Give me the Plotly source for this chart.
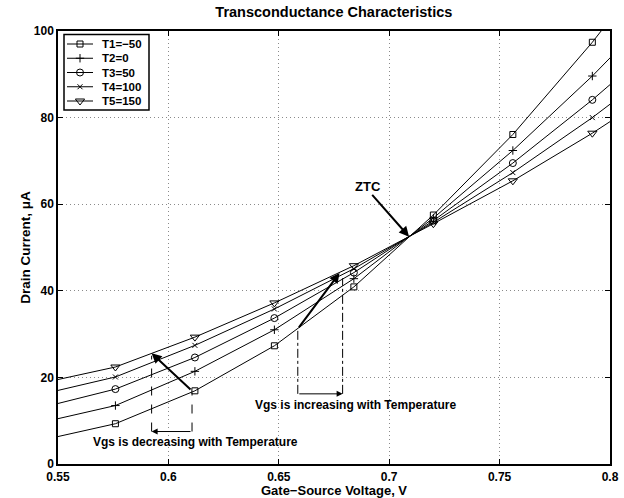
import plotly.graph_objects as go

# ---- data ----
vgs = [0.540, 0.576, 0.612, 0.648, 0.684, 0.720, 0.756, 0.792, 0.828]
T1 = [5.2, 9.3, 16.9, 27.3, 40.9, 57.5, 76.1, 97.4, 120.9]
T2 = [9.3, 13.5, 21.4, 31.0, 42.8, 56.8, 72.4, 89.6, 108.4]
T3 = [12.7, 17.3, 24.6, 33.7, 44.2, 56.2, 69.5, 84.1, 99.9]
T4 = [15.8, 20.1, 27.4, 35.8, 45.1, 55.8, 67.3, 80.0, 93.9]
T5 = [18.4, 22.4, 29.3, 37.2, 45.8, 55.5, 65.4, 76.4, 88.4]
series_names = ["T1=\u221250", "T2=0", "T3=50", "T4=100", "T5=150"]
series_vals = [T1, T2, T3, T4, T5]
symbols = ["square-open", "cross-thin-open", "circle-open", "x-thin-open", "triangle-down-open"]
msizes = [6, 6, 7, 5, 8]

x_ticks = [0.55, 0.6, 0.65, 0.7, 0.75, 0.8]
x_ticktext = ["0.55", "0.6", "0.65", "0.7", "0.75", "0.8"]
y_ticks = [0, 20, 40, 60, 80, 100]
X_RANGE = [0.55, 0.8]
Y_RANGE = [0, 100]

# annotation anchors (data coords)
ztc_point = (0.709, 52.5)
ztc_tail = (0.6917, 62.5)
ztc_label = (0.6905, 64.2)
inc_tail = (0.6586, 31.2)
inc_head = (0.6775, 44.1)
inc_left_x, inc_right_x = 0.6586, 0.6789
inc_left_top, inc_right_top, inc_bottom = 31.2, 42.9, 16.2
inc_text = (0.6847, 13.6)
dec_tail = (0.6107, 16.9)
dec_head = (0.5924, 25.6)
dec_left_x, dec_right_x = 0.5924, 0.6107
dec_left_top, dec_right_top, dec_bottom = 25.0, 16.4, 7.5
dec_text = (0.6124, 5.1)

# legend layout (pixel offsets inside the plot area)
PLOT_W, PLOT_H = 552, 433
legend_box = (6, 3.5, 91, 79)
legend_row0, legend_row_step = 13, 14.25
legend_line_x = (9, 35)
legend_marker_x = 22
legend_text_x = 42

FONT = "Liberation Sans"


def px(x):
    return x / PLOT_W


def py(y):
    return 1 - y / PLOT_H


def data_x(p):
    return X_RANGE[0] + px(p) * (X_RANGE[1] - X_RANGE[0])


def data_y(p):
    return Y_RANGE[0] + py(p) * (Y_RANGE[1] - Y_RANGE[0])


fig = go.Figure()
for name, vals, sym, ms in zip(series_names, series_vals, symbols, msizes):
    fig.add_trace(go.Scatter(
        x=vgs, y=vals, name=name, mode="lines+markers", showlegend=False,
        line=dict(color="black", width=1),
        marker=dict(symbol=sym, size=ms, color="black", line=dict(color="black", width=1)),
    ))

shapes = [
    dict(type="line", xref="x", yref="y", x0=inc_left_x, x1=inc_left_x, y0=inc_bottom, y1=inc_left_top,
         line=dict(color="black", width=1, dash="dashdot")),
    dict(type="line", xref="x", yref="y", x0=inc_right_x, x1=inc_right_x, y0=inc_bottom, y1=inc_right_top,
         line=dict(color="black", width=1, dash="dashdot")),
    dict(type="line", xref="x", yref="y", x0=dec_left_x, x1=dec_left_x, y0=dec_bottom, y1=dec_left_top,
         line=dict(color="black", width=1, dash="dash")),
    dict(type="line", xref="x", yref="y", x0=dec_right_x, x1=dec_right_x, y0=dec_bottom, y1=dec_right_top,
         line=dict(color="black", width=1, dash="dash")),
    dict(type="rect", xref="paper", yref="paper", x0=px(legend_box[0]), y0=py(legend_box[1]),
         x1=px(legend_box[2]), y1=py(legend_box[3]), line=dict(color="black", width=1.5),
         fillcolor="white", layer="below"),
]

annotations = [
    dict(x=ztc_point[0], y=ztc_point[1], ax=ztc_tail[0], ay=ztc_tail[1], xref="x", yref="y",
         axref="x", ayref="y", showarrow=True, arrowhead=2, arrowsize=1, arrowwidth=2, arrowcolor="black", text=""),
    dict(x=ztc_label[0], y=ztc_label[1], xref="x", yref="y", text="ZTC", showarrow=False,
         font=dict(family=FONT, size=13, color="black", weight="bold")),
    dict(x=inc_head[0], y=inc_head[1], ax=inc_tail[0], ay=inc_tail[1], xref="x", yref="y",
         axref="x", ayref="y", showarrow=True, arrowhead=2, arrowsize=1, arrowwidth=2, arrowcolor="black", text=""),
    dict(x=inc_right_x, y=inc_bottom, ax=inc_left_x, ay=inc_bottom, xref="x", yref="y",
         axref="x", ayref="y", showarrow=True, arrowhead=2, arrowsize=1.2, arrowwidth=1, arrowcolor="black", text=""),
    dict(x=inc_text[0], y=inc_text[1], xref="x", yref="y", text="Vgs is increasing with Temperature",
         showarrow=False, font=dict(family=FONT, size=12, color="black", weight="bold")),
    dict(x=dec_head[0], y=dec_head[1], ax=dec_tail[0], ay=dec_tail[1], xref="x", yref="y",
         axref="x", ayref="y", showarrow=True, arrowhead=2, arrowsize=1, arrowwidth=2, arrowcolor="black", text=""),
    dict(x=dec_left_x, y=dec_bottom, ax=dec_right_x, ay=dec_bottom, xref="x", yref="y",
         axref="x", ayref="y", showarrow=True, arrowhead=2, arrowsize=1.2, arrowwidth=1, arrowcolor="black", text=""),
    dict(x=dec_text[0], y=dec_text[1], xref="x", yref="y", text="Vgs is decreasing with Temperature",
         showarrow=False, font=dict(family=FONT, size=12, color="black", weight="bold")),
]

# custom compact legend (MATLAB style)
for i, (name, sym, ms) in enumerate(zip(series_names, symbols, msizes)):
    ry = legend_row0 + i * legend_row_step
    shapes.append(dict(type="line", xref="paper", yref="paper", x0=px(legend_line_x[0]),
                       x1=px(legend_line_x[1]), y0=py(ry), y1=py(ry), line=dict(color="black", width=1)))
    fig.add_trace(go.Scatter(x=[data_x(legend_marker_x)], y=[data_y(ry)], mode="markers",
                             showlegend=False, hoverinfo="skip",
                             marker=dict(symbol=sym, size=ms, color="black",
                                         line=dict(color="black", width=1))))
    annotations.append(dict(x=px(legend_text_x), y=py(ry), xref="paper", yref="paper", text=name,
                            showarrow=False, xanchor="left", yanchor="middle",
                            font=dict(family=FONT, size=11.5, color="black", weight="bold")))

axis_common = dict(
    showline=True, linecolor="black", linewidth=1.5, mirror="ticks",
    ticks="inside", ticklen=5, tickwidth=1, tickcolor="black",
    showgrid=True, gridcolor="#8a8a8a", griddash="1px,3px", gridwidth=1,
    zeroline=False, automargin=False,
    tickfont=dict(family=FONT, size=12, color="black", weight="bold"),
)

fig.update_layout(
    width=624, height=498,
    margin=dict(l=58, r=14, t=31, b=34),
    plot_bgcolor="white", paper_bgcolor="white",
    title=dict(text="Transconductance Characteristics", x=0.535, xanchor="center",
               y=1 - 12 / 498, yanchor="middle", yref="container",
               font=dict(family=FONT, size=14.5, color="black", weight="bold")),
    xaxis=dict(range=X_RANGE, tickvals=x_ticks, ticktext=x_ticktext, ticklabelstandoff=1,
               title=dict(text="Gate\u2212Source Voltage, V", standoff=0,
                          font=dict(family=FONT, size=13, color="black", weight="bold")),
               **axis_common),
    yaxis=dict(range=Y_RANGE, tickvals=y_ticks,
               title=dict(text="Drain Current, \u03bcA", standoff=0,
                          font=dict(family=FONT, size=13.5, color="black", weight="bold")),
               **axis_common),
    showlegend=False,
    shapes=shapes, annotations=annotations,
)

fig.write_html("out.html")
